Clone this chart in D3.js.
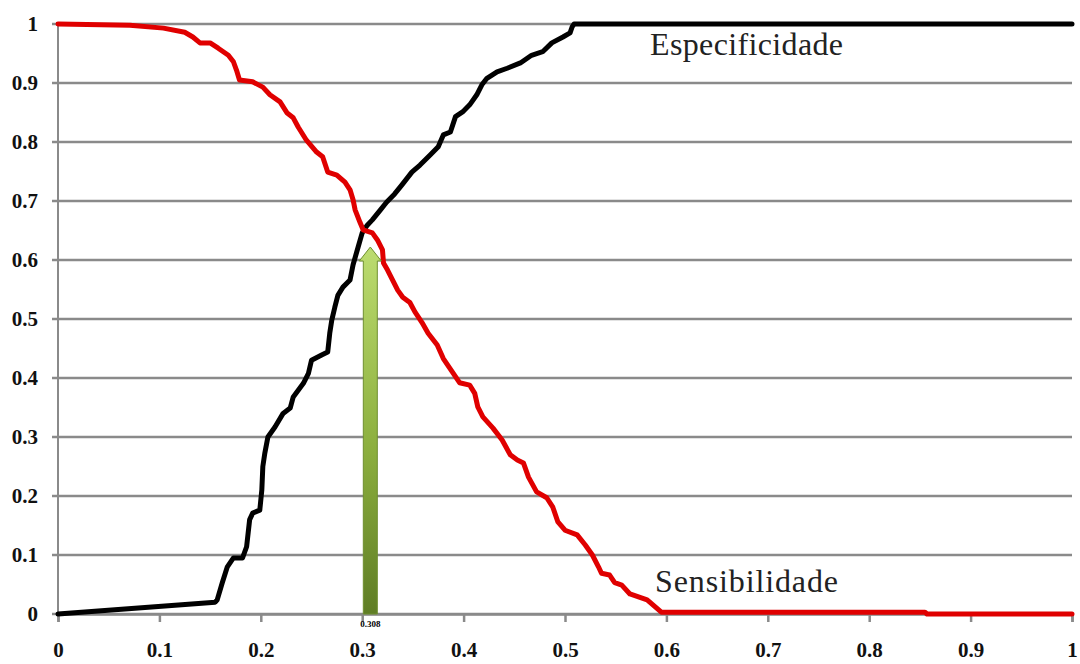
<!DOCTYPE html>
<html>
<head>
<meta charset="utf-8">
<script src="https://cdn.jsdelivr.net/npm/d3@7"></script>
<style>
  html, body { margin: 0; padding: 0; background: #fff; }
  svg { display: block; }
</style>
</head>
<body>
<svg id="chart" width="1080" height="664"></svg>
<script>
// ---- data ----
const xTicks = [0, 0.1, 0.2, 0.3, 0.4, 0.5, 0.6, 0.7, 0.8, 0.9, 1];
const yTicks = [0, 0.1, 0.2, 0.3, 0.4, 0.5, 0.6, 0.7, 0.8, 0.9, 1];
const xTickLabels = ["0", "0.1", "0.2", "0.3", "0.4", "0.5", "0.6", "0.7", "0.8", "0.9", "1"];
const yTickLabels = ["0", "0.1", "0.2", "0.3", "0.4", "0.5", "0.6", "0.7", "0.8", "0.9", "1"];

// Especificidade (black)
const espX = [0, 0.155, 0.157, 0.162, 0.167, 0.173, 0.182, 0.186, 0.189, 0.192, 0.199, 0.201, 0.202, 0.204, 0.207, 0.214, 0.222, 0.229, 0.232, 0.242, 0.247, 0.250, 0.260, 0.266, 0.268, 0.270, 0.273, 0.276, 0.281, 0.288, 0.291, 0.296, 0.300, 0.305, 0.310, 0.318, 0.324, 0.332, 0.339, 0.349, 0.357, 0.367, 0.375, 0.380, 0.387, 0.392, 0.399, 0.406, 0.413, 0.418, 0.423, 0.433, 0.443, 0.456, 0.467, 0.478, 0.487, 0.498, 0.505, 0.507, 0.509, 1.0];
const espY = [0, 0.020, 0.024, 0.053, 0.080, 0.095, 0.095, 0.114, 0.160, 0.171, 0.176, 0.210, 0.250, 0.273, 0.300, 0.317, 0.340, 0.349, 0.368, 0.391, 0.408, 0.430, 0.439, 0.444, 0.476, 0.498, 0.520, 0.540, 0.554, 0.566, 0.592, 0.622, 0.646, 0.659, 0.668, 0.685, 0.698, 0.712, 0.727, 0.749, 0.761, 0.778, 0.792, 0.812, 0.817, 0.843, 0.851, 0.863, 0.880, 0.897, 0.908, 0.919, 0.925, 0.934, 0.947, 0.953, 0.968, 0.978, 0.985, 0.995, 1.0, 1.0];

// Sensibilidade (red)
const senX = [0, 0.071, 0.104, 0.125, 0.133, 0.140, 0.150, 0.158, 0.168, 0.173, 0.176, 0.179, 0.192, 0.202, 0.209, 0.219, 0.226, 0.232, 0.237, 0.245, 0.255, 0.261, 0.266, 0.275, 0.283, 0.288, 0.291, 0.293, 0.298, 0.301, 0.310, 0.315, 0.320, 0.321, 0.325, 0.330, 0.335, 0.340, 0.347, 0.352, 0.359, 0.365, 0.374, 0.380, 0.389, 0.396, 0.406, 0.411, 0.414, 0.419, 0.429, 0.438, 0.446, 0.453, 0.459, 0.464, 0.472, 0.482, 0.488, 0.493, 0.500, 0.512, 0.520, 0.527, 0.533, 0.536, 0.544, 0.549, 0.556, 0.564, 0.581, 0.589, 0.595, 0.600, 0.855, 0.857, 1.0];
const senY = [1.0, 0.998, 0.993, 0.986, 0.978, 0.968, 0.968, 0.959, 0.947, 0.936, 0.922, 0.905, 0.902, 0.893, 0.880, 0.868, 0.849, 0.841, 0.825, 0.803, 0.783, 0.775, 0.749, 0.744, 0.732, 0.719, 0.702, 0.685, 0.663, 0.651, 0.646, 0.634, 0.617, 0.595, 0.583, 0.566, 0.549, 0.537, 0.528, 0.512, 0.494, 0.476, 0.456, 0.433, 0.410, 0.392, 0.388, 0.374, 0.351, 0.334, 0.315, 0.295, 0.270, 0.261, 0.256, 0.232, 0.207, 0.197, 0.181, 0.156, 0.142, 0.134, 0.117, 0.100, 0.080, 0.069, 0.066, 0.053, 0.049, 0.034, 0.024, 0.012, 0.003, 0.003, 0.003, 0.0, 0.0];

// Arrow marking the cut-off point
const arrowX = 0.308;
const arrowFrom = 0;
const arrowTo = 0.622;

const seriesLabels = ["Especificidade", "Sensibilidade"];

// ---- drawing ----
const svg = d3.select("#chart");
const W = 1080, H = 664;
const m = { left: 58, right: 8, top: 24, bottom: 50 };

svg.append("rect").attr("width", W).attr("height", H).attr("fill", "#fff");

const x = d3.scaleLinear().domain([0, 1]).range([m.left, 1072]);
const y = d3.scaleLinear().domain([0, 1]).range([614, m.top]);

const labelFont = "'Liberation Serif', 'Times New Roman', serif";

// gridlines (horizontal)
const grid = svg.append("g");
grid.selectAll("line").data(yTicks).join("line")
  .attr("x1", x(0) - 6).attr("x2", x(1))
  .attr("y1", d => y(d)).attr("y2", d => y(d))
  .attr("stroke", "#8a8a8a").attr("stroke-width", 2.5);

// y axis line
svg.append("line")
  .attr("x1", x(0)).attr("x2", x(0))
  .attr("y1", y(1)).attr("y2", y(0))
  .attr("stroke", "#8a8a8a").attr("stroke-width", 2);

// x axis via d3 axis
const xAxis = d3.axisBottom(x).tickValues(xTicks)
  .tickFormat((d, i) => xTickLabels[i]).tickSize(8).tickPadding(20);
const gx = svg.append("g").attr("transform", `translate(0,${y(0)})`).call(xAxis);
gx.select(".domain").attr("stroke", "#8a8a8a").attr("stroke-width", 2.5);
gx.selectAll(".tick line").attr("stroke", "#8a8a8a").attr("stroke-width", 2.5);
gx.selectAll(".tick text")
  .attr("font-family", labelFont).attr("font-weight", "bold")
  .attr("font-size", 21).attr("fill", "#111").attr("dy", "0.71em");

// y axis labels via d3 axis (no domain/ticks; gridlines cover them)
const yAxis = d3.axisLeft(y).tickValues(yTicks)
  .tickFormat((d, i) => yTickLabels[i]).tickSize(0).tickPadding(20);
const gy = svg.append("g").attr("transform", `translate(${x(0)},0)`).call(yAxis);
gy.select(".domain").remove();
gy.selectAll(".tick text")
  .attr("font-family", labelFont).attr("font-weight", "bold")
  .attr("font-size", 21).attr("fill", "#111");

// lines
const line = d3.line().x(d => x(d[0])).y(d => y(d[1]));
const espData = espX.map((v, i) => [v, espY[i]]);
const senData = senX.map((v, i) => [v, senY[i]]);

svg.append("path").datum(espData).attr("d", line)
  .attr("fill", "none").attr("stroke", "#000").attr("stroke-width", 5)
  .attr("stroke-linejoin", "round").attr("stroke-linecap", "round");

svg.append("path").datum(senData).attr("d", line)
  .attr("fill", "none").attr("stroke", "#e00000").attr("stroke-width", 5)
  .attr("stroke-linejoin", "round").attr("stroke-linecap", "round");

// arrow
const defs = svg.append("defs");
const grad = defs.append("linearGradient").attr("id", "ag")
  .attr("x1", 0).attr("y1", 0).attr("x2", 0).attr("y2", 1);
grad.append("stop").attr("offset", "0%").attr("stop-color", "#bcdc70");
grad.append("stop").attr("offset", "55%").attr("stop-color", "#8caf3e");
grad.append("stop").attr("offset", "100%").attr("stop-color", "#5f7d25");

const ax = x(arrowX), ay0 = y(arrowFrom), ay1 = y(arrowTo);
const shaftHalf = 7, headHalf = 11, headH = 14;
const arrowPts = [
  [ax - shaftHalf, ay0],
  [ax - shaftHalf, ay1 + headH],
  [ax - headHalf, ay1 + headH],
  [ax, ay1],
  [ax + headHalf, ay1 + headH],
  [ax + shaftHalf, ay1 + headH],
  [ax + shaftHalf, ay0]
];
svg.append("path")
  .attr("d", d3.line()(arrowPts) + "Z")
  .attr("fill", "url(#ag)").attr("stroke", "#6f8f2f").attr("stroke-width", 1);

// small mark under the arrow
svg.append("text")
  .attr("x", ax).attr("y", y(0) + 13)
  .attr("text-anchor", "middle")
  .attr("font-family", labelFont).attr("font-weight", "bold")
  .attr("font-size", 9).attr("fill", "#000")
  .text("0.308");

// series labels
svg.append("text")
  .attr("x", 650).attr("y", 55)
  .attr("font-family", labelFont).attr("font-size", 32).attr("fill", "#222")
  .attr("textLength", 193).attr("lengthAdjust", "spacing")
  .text(seriesLabels[0]);

svg.append("text")
  .attr("x", 655).attr("y", 592)
  .attr("font-family", labelFont).attr("font-size", 32).attr("fill", "#222")
  .attr("textLength", 183).attr("lengthAdjust", "spacing")
  .text(seriesLabels[1]);
</script>
</body>
</html>
